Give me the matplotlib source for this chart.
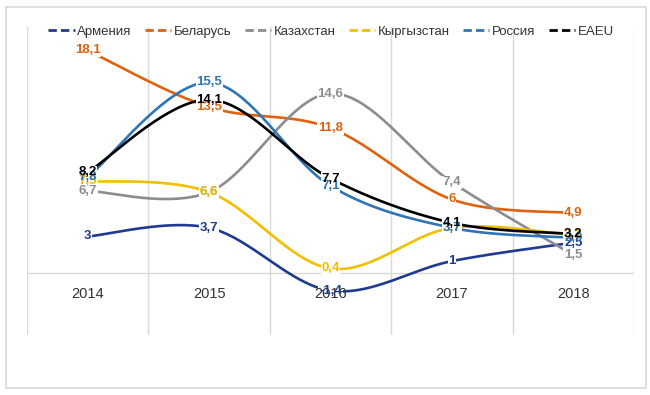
import numpy as np
import matplotlib
matplotlib.use("Agg")
import matplotlib.pyplot as plt
from matplotlib.lines import Line2D
from matplotlib.patches import Rectangle

years = ["2014", "2015", "2016", "2017", "2018"]
series_names = ["Армения", "Беларусь", "Казахстан", "Кыргызстан", "Россия", "EAEU"]
armenia = [3.0, 3.7, -1.4, 1.0, 2.5]
belarus = [18.1, 13.5, 11.8, 6.0, 4.9]
kazakhstan = [6.7, 6.6, 14.6, 7.4, 1.5]
kyrgyzstan = [7.5, 6.6, 0.4, 3.7, 3.1]
russia = [7.8, 15.5, 7.1, 3.7, 2.9]
eaeu = [8.2, 14.1, 7.7, 4.1, 3.2]
all_values = [armenia, belarus, kazakhstan, kyrgyzstan, russia, eaeu]
colors = ["#1F3A8F", "#E0620D", "#8C8C8C", "#F2BE00", "#2E75B6", "#000000"]

FONT = ["Liberation Sans Narrow", "Liberation Sans", "DejaVu Sans"]
plt.rcParams["font.family"] = FONT


def excel_smooth(x, y, n=40):
    pts = np.column_stack([x, y]).astype(float)
    out = []
    for i in range(len(pts) - 1):
        p0 = pts[i - 1] if i > 0 else pts[i]
        p1 = pts[i]
        p2 = pts[i + 1]
        p3 = pts[i + 2] if i + 2 < len(pts) else pts[i + 1]
        c1 = p1 + (p2 - p0) / 6.0
        c2 = p2 - (p3 - p1) / 6.0
        t = np.linspace(0, 1, n)[:, None]
        seg = (1 - t) ** 3 * p1 + 3 * (1 - t) ** 2 * t * c1 + 3 * (1 - t) * t ** 2 * c2 + t ** 3 * p2
        out.append(seg if i == 0 else seg[1:])
    return np.vstack(out)


W, H = 650, 395
fig = plt.figure(figsize=(W / 100, H / 100), dpi=100)
fig.patch.set_facecolor("white")

# outer border
fig.add_artist(Rectangle((6 / W, 1 - 388 / H), 640 / W, 381 / H, transform=fig.transFigure,
                         fill=False, edgecolor="#D9D9D9", linewidth=1.2))

left, right, top, bottom = 27, 634, 27, 335
ax = fig.add_axes([left / W, 1 - bottom / H, (right - left) / W, (bottom - top) / H])
ax.set_xlim(-0.5, len(years) - 0.5)
ax.set_ylim(-5, 20)
ax.axis("off")

x = np.arange(len(years))
for b in np.arange(-0.5, len(years), 1.0):
    ax.axvline(b, color="#D9D9D9", lw=1.0, zorder=1)
ax.axhline(0, color="#D9D9D9", lw=1.0, zorder=1)

for i, lab in enumerate(years):
    ax.annotate(lab, (i, 0), xytext=(0, -15), textcoords="offset points",
                ha="center", va="center", fontsize=10.5, color="#333333", zorder=5.5)

for k, (vals, c) in enumerate(zip(all_values, colors)):
    s = excel_smooth(x, vals)
    ax.plot(s[:, 0], s[:, 1], color=c, lw=1.9, zorder=3 + k * 0.01, solid_capstyle="round")


def fmt(v):
    s = ("%.1f" % v).rstrip("0").rstrip(".")
    return s.replace(".", ",")


# white masks under labels
for vals in all_values:
    for i, v in enumerate(vals):
        ax.text(i, v, fmt(v), ha="center", va="center", fontsize=9.5, fontweight="bold",
                color="white", zorder=5,
                bbox=dict(boxstyle="square,pad=0.05", fc="white", ec="none"))
for vals, c in zip(all_values, colors):
    for i, v in enumerate(vals):
        ax.text(i, v, fmt(v), ha="center", va="center", fontsize=9.5, fontweight="bold",
                color=c, zorder=6)

handles = [Line2D([0], [0], color=c, lw=2.0, linestyle=(0, (3.0, 1.5))) for c in colors]
fig.legend(handles, series_names, loc="center", bbox_to_anchor=(331 / W, 1 - 32 / H),
           ncol=6, frameon=False, fontsize=9.5, handlelength=2.0, handletextpad=0.2,
           columnspacing=1.0, labelcolor="#333333")

fig.savefig("out.png", dpi=100, facecolor="white")
